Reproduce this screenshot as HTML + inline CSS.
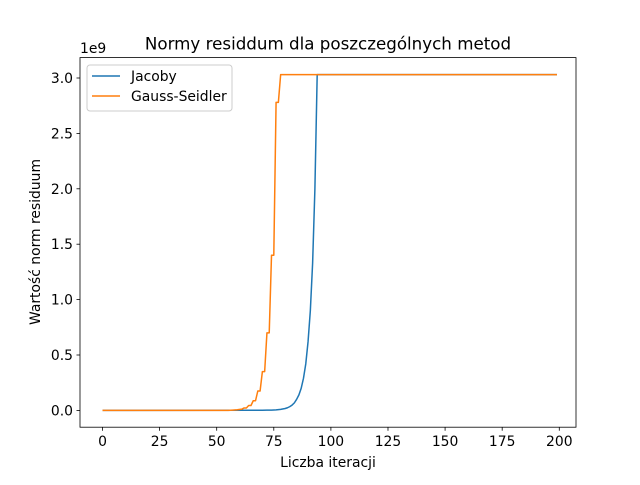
<!DOCTYPE html>
<html><head><meta charset="utf-8"><style>
body{margin:0;background:#fff}
svg{font-family:"DejaVu Sans","Liberation Sans",sans-serif}
</style></head><body>
<svg id="c" width="640" height="480" viewBox="0 0 640 480">
<rect width="640" height="480" fill="#fff"/>
<text x="328" y="49.5" font-size="16.7" text-anchor="middle">Normy residdum dla poszczególnych metod</text>
<text x="80" y="53" font-size="13.9">1e9</text>
<text x="328" y="467" font-size="13.9" text-anchor="middle">Liczba iteracji</text>
<text transform="translate(40,242) rotate(-90)" font-size="13.9" text-anchor="middle">Wartość norm residuum</text>
<g id="plot"></g>
<rect x="80" y="57.6" width="496" height="369.6" fill="none" stroke="#000" stroke-width="0.8"/>
<g>
<rect x="87" y="65" width="145" height="46" rx="3" fill="#fff" fill-opacity="0.8" stroke="#ccc"/>
<line x1="92" y1="76" x2="120" y2="76" stroke="#1f77b4" stroke-width="1.5"/>
<text x="131" y="81" font-size="13.9">Jacoby</text>
<line x1="92" y1="96" x2="120" y2="96" stroke="#ff7f0e" stroke-width="1.5"/>
<text x="131" y="101" font-size="13.9">Gauss-Seidler</text>
</g>
</svg>
<script>
const xTicks=[0,25,50,75,100,125,150,175,200];
const yTicks=[0,0.5,1.0,1.5,2.0,2.5,3.0];
const yTickLabels=["0.0","0.5","1.0","1.5","2.0","2.5","3.0"];
const jacobyIter=[0,70,72,74,76,78,80,81,82,83,84,85,86,87,88,89,90,91,92,93,94,199];
const jacobyVal=[0,0.001,0.002,0.003,0.005,0.009,0.017,0.024,0.034,0.048,0.068,0.1,0.14,0.2,0.29,0.42,0.62,0.9,1.33,2.0,3.03,3.03];
const gaussIter=[0,55,57,59,61,62,63,64,65,66,67,68,69,70,71,72,73,74,75,76,77,78,199];
const gaussVal=[0,0,0.003,0.006,0.011,0.022,0.022,0.044,0.044,0.087,0.087,0.175,0.175,0.35,0.35,0.7,0.7,1.4,1.4,2.78,2.78,3.03,3.03];
const sx=v=>102.5+v*(557-102.5)/199;
const sy=v=>410.4-v*(410.4-78)/3.0;
const ns="http://www.w3.org/2000/svg";
const g=document.getElementById('plot');
function mk(t,a){const e=document.createElementNS(ns,t);for(const k in a)e.setAttribute(k,a[k]);g.appendChild(e);return e;}
xTicks.forEach(t=>{
 const l=mk('line',{x1:sx(t),x2:sx(t),y1:427.2,y2:430.7,stroke:'#000','stroke-width':0.8});
 
 
 const tx=mk('text',{x:sx(t),y:446,'font-size':13.9,'text-anchor':'middle'});tx.textContent=t;
 
 
});
yTicks.forEach((t,i)=>{
 const l=mk('line',{x1:76.5,x2:80,y1:sy(t),y2:sy(t),stroke:'#000','stroke-width':0.8});
 
 
 const tx=mk('text',{x:73,y:sy(t)+5,'font-size':13.9,'text-anchor':'end'});tx.textContent=yTickLabels[i];
 
 
});
function line(xs,ys,c,name){
 const p=mk('polyline',{points:xs.map((x,i)=>sx(x)+','+sy(ys[i])).join(' '),fill:'none',stroke:c,'stroke-width':1.5,'stroke-linejoin':'round'});
 
 
}
line(jacobyIter,jacobyVal,'#1f77b4','jacoby-series');
line(gaussIter,gaussVal,'#ff7f0e','gauss-seidler-series');
</script>
</body></html>
